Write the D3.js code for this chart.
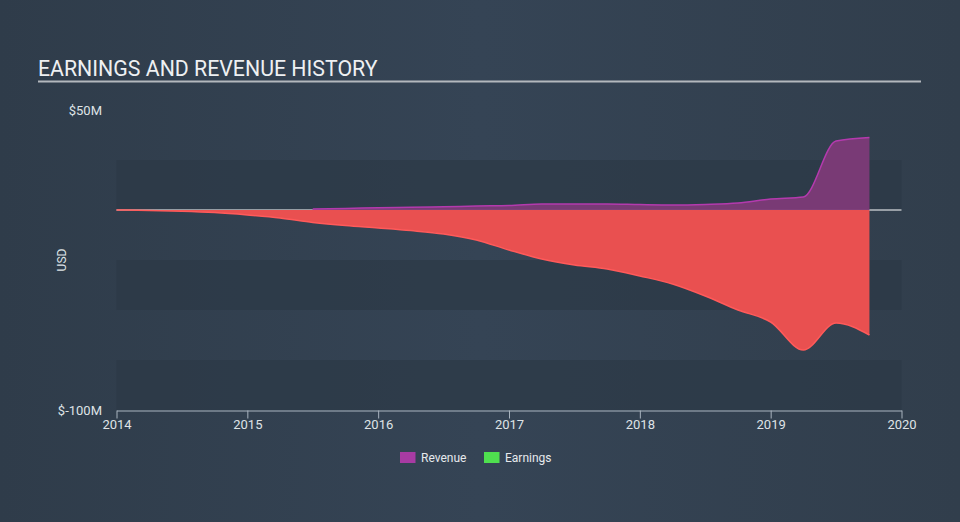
<!DOCTYPE html>
<html><head><meta charset="utf-8">
<script src="https://cdn.jsdelivr.net/npm/d3@7"></script>
<style>html,body{margin:0;padding:0;background:#334151;}svg{display:block;font-family:Roboto,"Noto Sans",sans-serif;}</style>
</head><body>
<svg id="chart" width="960" height="522"></svg>
<script>
const earningsDates = [2014.0,2014.25,2014.5,2014.75,2015.0,2015.25,2015.5,2015.75,2016.0,2016.25,2016.5,2016.75,2017.0,2017.25,2017.5,2017.75,2018.0,2018.25,2018.5,2018.75,2019.0,2019.25,2019.5,2019.755];
const earningsValues = [0,-0.2,-0.6,-1.3,-2.5,-4,-6.2,-7.8,-9,-10.3,-12,-15,-20,-24.5,-27.5,-29.5,-33,-37,-43,-50,-56,-70,-56.5,-62.5];
const revenueDates = [2015.5,2015.75,2016.0,2016.25,2016.5,2016.75,2017.0,2017.25,2017.5,2017.75,2018.0,2018.25,2018.5,2018.75,2019.0,2019.25,2019.5,2019.755];
const revenueValues = [0.5,0.8,1.1,1.4,1.6,2.0,2.2,3.0,3.0,3.0,2.7,2.5,2.8,3.5,5.5,6.5,34.5,36.3];
const xTicks = [2014,2015,2016,2017,2018,2019,2020];
const yTickLabels = [{v:50,t:"$50M"},{v:-100,t:"$-100M"}];
const legendItems = [{name:"Revenue",color:"#a83ba3"},{name:"Earnings",color:"#4fe04f"}];

const svg = d3.select("#chart");
const defs = svg.append("defs");
const grad = defs.append("linearGradient").attr("id","bg").attr("x1","0").attr("x2","1").attr("y1","0").attr("y2","0");
grad.append("stop").attr("offset","0").attr("stop-color","#2f3c4a");
grad.append("stop").attr("offset","0.5").attr("stop-color","#354455");
grad.append("stop").attr("offset","1").attr("stop-color","#313e4c");
svg.append("rect").attr("width",960).attr("height",522).attr("fill","url(#bg)");

const x = d3.scaleLinear().domain([2014,2020]).range([116.5,901.5]);
const y = d3.scaleLinear().domain([-100,50]).range([410,110]);

// bands
const bands = [[25,0],[-25,-50],[-75,-100]];
svg.append("g").selectAll("rect").data(bands).join("rect")
  .attr("x",x(2014)).attr("width",x(2020)-x(2014))
  .attr("y",d=>y(d[0])).attr("height",d=>y(d[1])-y(d[0]))
  .attr("fill","#2c3947").attr("opacity",0.75);

// title
svg.append("text").attr("x",38).attr("y",76).attr("fill","#eef0f2")
  .attr("font-size",21.3).text("EARNINGS AND REVENUE HISTORY");
svg.append("line").attr("x1",38).attr("x2",921).attr("y1",81.5).attr("y2",81.5)
  .attr("stroke","#b3b8bd").attr("stroke-width",2);

// zero line
svg.append("line").attr("x1",x(2014)).attr("x2",x(2020)).attr("y1",y(0)).attr("y2",y(0))
  .attr("stroke","#ffffff").attr("stroke-width",1.2);

const curve = d3.curveMonotoneX;
const eData = earningsDates.map((d,i)=>({d,v:earningsValues[i]}));
const rData = revenueDates.map((d,i)=>({d,v:revenueValues[i]}));

const area = d3.area().x(p=>x(p.d)).y0(y(0)).y1(p=>y(p.v)).curve(curve);
const line = d3.line().x(p=>x(p.d)).y(p=>y(p.v)).curve(curve);

svg.append("path").datum(rData).attr("d",area).attr("fill","#7d3a78").attr("opacity",0.95);
svg.append("path").datum(rData).attr("d",line).attr("fill","none").attr("stroke","#b43aae").attr("stroke-width",1.5);
svg.append("path").datum(eData).attr("d",area).attr("fill","#e95050");
svg.append("path").datum(eData).attr("d",line).attr("fill","none").attr("stroke","#ff5a5a").attr("stroke-width",1.5);

// x axis
const xAxis = d3.axisBottom(x).tickValues(xTicks).tickFormat(d3.format("d")).tickSize(8).tickSizeOuter(0);
const gx = svg.append("g").attr("transform",`translate(0,${y(-100)+0.5})`).call(xAxis);
gx.select(".domain").attr("stroke","#a9b4bf");
gx.selectAll(".tick line").attr("stroke","#a9b4bf");
gx.selectAll(".tick text").attr("fill","#dfe3e6").attr("font-size",13).attr("dy","0.6em")
  .attr("font-family","Roboto,'Noto Sans',sans-serif");

// y labels
svg.append("g").selectAll("text").data(yTickLabels).join("text")
  .attr("x",102).attr("y",d=>y(d.v)).attr("dy","0.35em").attr("text-anchor","end")
  .attr("fill","#dfe3e6").attr("font-size",13).text(d=>d.t);

svg.append("text").attr("transform","translate(66,260) rotate(-90)").attr("text-anchor","middle")
  .attr("fill","#dfe3e6").attr("font-size",12).text("USD");

// legend
const lg = svg.append("g");
const lx = [400,484];
legendItems.forEach((it,i)=>{
  lg.append("rect").attr("x",lx[i]).attr("y",452).attr("width",15.5).attr("height",11).attr("fill",it.color);
  lg.append("text").attr("x",lx[i]+21).attr("y",458).attr("dy","0.35em").attr("fill","#e6e9ec")
    .attr("font-size",12).text(it.name);
});
</script>
</body></html>
